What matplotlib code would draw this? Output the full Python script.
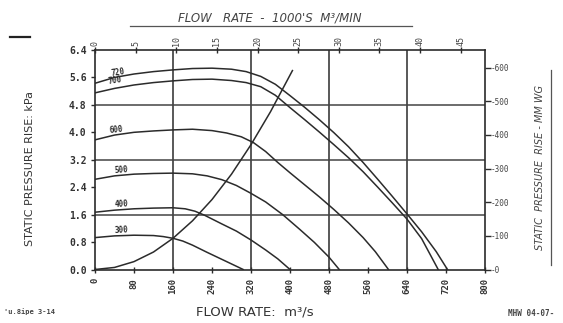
import matplotlib
matplotlib.use("Agg")
import matplotlib.pyplot as plt
from matplotlib.lines import Line2D

OUTPUT_PNG = "out.png"

# axis ticks
flow_ticks = [0, 80, 160, 240, 320, 400, 480, 560, 640, 720, 800]
pressure_ticks = [0.0, 0.8, 1.6, 2.4, 3.2, 4.0, 4.8, 5.6, 6.4]
top_ticks = [0, 5, 10, 15, 20, 25, 30, 35, 40, 45]          # 1000's m3/min
right_ticks = [0, 100, 200, 300, 400, 500, 600]             # mm WG

# fan curves (flow m3/s, pressure kPa)
q_720 = [0, 40, 80, 120, 160, 200, 240, 280, 310, 340, 370, 400, 430, 460,
         490, 520, 550, 580, 610, 640, 670, 700, 723]
p_720 = [5.43, 5.6, 5.7, 5.77, 5.82, 5.86, 5.87, 5.84, 5.77, 5.63, 5.4, 5.07,
         4.73, 4.37, 3.99, 3.58, 3.12, 2.63, 2.13, 1.62, 1.1, 0.52, 0.0]

q_700 = [0, 40, 80, 120, 160, 200, 240, 280, 310, 340, 370, 400, 430, 460,
         490, 520, 550, 580, 610, 640, 670, 704]
p_700 = [5.15, 5.28, 5.38, 5.45, 5.5, 5.54, 5.55, 5.51, 5.45, 5.33, 5.08, 4.72,
         4.37, 4.01, 3.64, 3.26, 2.85, 2.4, 1.94, 1.47, 0.9, 0.0]

q_600 = [0, 40, 80, 120, 160, 200, 240, 270, 300, 325, 350, 375, 400, 430,
         460, 490, 520, 550, 575, 602]
p_600 = [3.78, 3.92, 4.0, 4.04, 4.07, 4.09, 4.05, 3.98, 3.87, 3.7, 3.44, 3.12,
         2.82, 2.47, 2.12, 1.75, 1.36, 0.93, 0.52, 0.0]

q_500 = [0, 40, 80, 120, 160, 200, 230, 260, 290, 320, 350, 385, 420, 450, 480, 501]
p_500 = [2.63, 2.73, 2.78, 2.8, 2.81, 2.79, 2.73, 2.62, 2.45, 2.22, 1.97, 1.6,
         1.17, 0.79, 0.36, 0.0]

q_400 = [0, 40, 80, 120, 160, 185, 205, 225, 260, 290, 320, 350, 375, 400]
p_400 = [1.67, 1.73, 1.77, 1.79, 1.8, 1.77, 1.7, 1.58, 1.33, 1.12, 0.86, 0.57,
         0.31, 0.0]

q_300 = [0, 40, 80, 120, 140, 160, 180, 200, 230, 270, 304]
p_300 = [0.93, 0.98, 1.0, 0.99, 0.96, 0.91, 0.83, 0.71, 0.5, 0.23, 0.0]

# system resistance curve
sys_q = [0, 40, 80, 120, 160, 200, 240, 280, 320, 360, 405]
sys_p = [0, 0.06, 0.23, 0.51, 0.91, 1.42, 2.04, 2.78, 3.64, 4.60, 5.80]

curves = [
    (q_720, p_720, "720", (48, 5.76), 9),
    (q_700, p_700, "700", (41, 5.50), 9),
    (q_600, p_600, "600", (43, 4.07), 6),
    (q_500, p_500, "500", (53, 2.90), 4),
    (q_400, p_400, "400", (55, 1.91), 3),
    (q_300, p_300, "300", (55, 1.15), 3),
]

INK = "#2b2b2b"
MONO = "DejaVu Sans Mono"


def plot():
    fig = plt.figure(figsize=(5.63, 3.23), dpi=100)
    ax = fig.add_axes([95 / 563, 53.5 / 323, 390 / 563, 219.5 / 323])

    ax.set_xlim(0, 800)
    ax.set_ylim(0, 6.4)

    # grid every 160 m3/s and 1.6 kPa
    for gx in [160, 320, 480, 640]:
        ax.axvline(gx, color=INK, lw=1.1, zorder=1)
    for gy in [1.6, 3.2, 4.8]:
        ax.axhline(gy, color="#444444", lw=1.1, zorder=1)

    for q, p, label, pos, rot in curves:
        ax.plot(q, p, color=INK, lw=1.1, zorder=3, solid_joinstyle="round")
        ax.text(pos[0], pos[1], label, fontsize=5.5, family=MONO, color=INK,
                ha="center", va="center", rotation=rot, fontweight="bold")

    ax.plot(sys_q, sys_p, color=INK, lw=1.1, zorder=3, solid_joinstyle="round")

    for s in ax.spines.values():
        s.set_color(INK)
        s.set_linewidth(1.2)

    ax.set_xticks(flow_ticks)
    ax.set_xticklabels([str(v) for v in flow_ticks], rotation=90, family=MONO,
                       fontsize=6.5, fontweight="bold", color="#333333")
    ax.set_yticks(pressure_ticks)
    ax.set_yticklabels([f"{v:.1f}" for v in pressure_ticks], family=MONO,
                       fontsize=7, fontweight="bold", color="#333333")
    ax.tick_params(axis="x", direction="inout", length=4, width=1, pad=4, color=INK)
    ax.tick_params(axis="y", direction="out", length=3, width=1, pad=3, color=INK)

    # top axis: 1000's m3/min
    top = ax.twiny()
    top.set_xlim(0, 800 * 60 / 1000)
    top.set_xticks(top_ticks)
    top.set_xticklabels([str(v) for v in top_ticks], rotation=90, family=MONO,
                        fontsize=6, color="#444444")
    top.tick_params(axis="x", direction="inout", length=4, width=1, pad=1, color=INK)

    # right axis: mm WG
    right = ax.twinx()
    right.set_ylim(0, 6.4 * 1000 / 9.80665)
    right.set_yticks(right_ticks)
    right.set_yticklabels([f"-{v}" for v in right_ticks], family=MONO,
                          fontsize=5.5, color="#444444")
    right.tick_params(axis="y", direction="out", length=4, width=1, pad=0, color=INK)
    for a in (top, right):
        for s in a.spines.values():
            s.set_visible(False)

    # titles
    fig.text(270 / 563, 1 - 18 / 323, "FLOW   RATE  -  1000'S  M³/MIN", fontsize=8.5,
             style="italic", color="#444444", ha="center", va="center")
    fig.add_artist(Line2D([130 / 563, 412 / 563], [1 - 26 / 323, 1 - 26 / 323],
                          color="#555555", lw=0.9))
    fig.text(255 / 563, 1 - 312 / 323, "FLOW RATE:  m³/s", fontsize=9.5,
             color="#333333", ha="center", va="center")
    fig.text(30 / 563, 1 - 168 / 323, "STATIC PRESSURE RISE: kPa", fontsize=8,
             color="#333333", rotation=90, ha="center", va="center")
    fig.text(540 / 563, 1 - 168 / 323, "STATIC  PRESSURE  RISE - MM WG", fontsize=7,
             style="italic", color="#444444", rotation=90, ha="center", va="center")
    fig.add_artist(Line2D([551 / 563, 551 / 563], [1 - 265 / 323, 1 - 70 / 323],
                          color="#555555", lw=0.9))

    # scan marks
    fig.add_artist(Line2D([10 / 563, 30 / 563], [1 - 37 / 323, 1 - 37 / 323],
                          color="#222222", lw=1.6))
    fig.text(4 / 563, 1 - 312 / 323, "'u.8ipe 3-14", fontsize=5, family=MONO,
             color="#444444", ha="left", va="center", fontweight="bold")
    fig.text(508 / 563, 1 - 313 / 323, "MHW 04-07-", fontsize=5.5, family=MONO,
             color="#444444", ha="left", va="center", fontweight="bold")

    fig.savefig(OUTPUT_PNG, dpi=100)
    plt.close(fig)


if __name__ == "__main__":
    plot()
